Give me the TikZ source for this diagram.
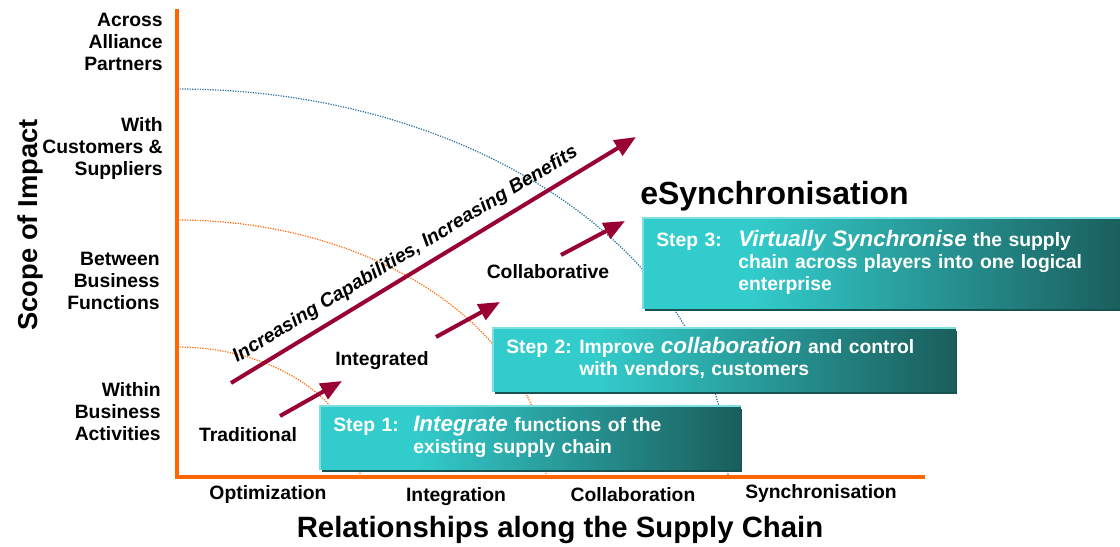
\documentclass[tikz,border=0pt]{standalone}
\usepackage{fontspec}
\setmainfont{Liberation Sans}
\usetikzlibrary{arrows.meta,shadows}

\definecolor{axisorange}{RGB}{255,102,0}
\definecolor{arcblue}{RGB}{30,110,160}
\definecolor{arrowred}{RGB}{153,0,51}
\definecolor{steplight}{RGB}{51,204,204}
\definecolor{stepdark}{RGB}{26,94,92}
\definecolor{steprim}{RGB}{125,224,224}
\definecolor{stepshadow}{RGB}{22,82,82}
\pgfdeclarehorizontalshading{stepshade}{100bp}{color(0bp)=(steplight); color(36bp)=(steplight); color(75bp)=(stepdark); color(100bp)=(stepdark)}

\newcommand{\lbl}{\bfseries\fontsize{14.5}{16.5}\selectfont}
\newcommand{\stepem}[1]{{\itshape\fontsize{16.8}{16.5}\selectfont #1}}

\begin{document}
\begin{tikzpicture}[x=0.75pt, y=-0.75pt,
  axislabel/.style={font=\lbl, align=right, anchor=east, inner sep=0pt},
  stagelabel/.style={font=\lbl, inner sep=0pt},
  stepbox/.style={anchor=north west, shading=stepshade, font=\lbl, text=white,
    align=left, inner xsep=9.75pt, inner ysep=0pt,
    drop shadow={fill=stepshadow, opacity=1, shadow xshift=1.5pt, shadow yshift=-2.25pt}},
  dotarc/.style={densely dotted, line width=0.9pt},
  growth/.style={arrowred, line width=3pt, -{Triangle[length=16pt, width=13pt]}}]
  \useasboundingbox (0,0) rectangle (1120,546);

  % Define the points
  \coordinate (O) at (177,477);
  \coordinate (ytop) at (177,9);
  \coordinate (xend) at (925,477);
  \coordinate (a1) at (177,347);
  \coordinate (a2) at (177,220);
  \coordinate (a3) at (177,89);

  % Dotted arcs
  \draw[dotarc, axisorange] (a1) arc[start angle=-90, end angle=0, x radius=183, y radius=130];
  \draw[dotarc, axisorange] (a2) arc[start angle=-90, end angle=0, x radius=369, y radius=257];
  \draw[dotarc, arcblue] (a3) arc[start angle=-90, end angle=0, x radius=551, y radius=388];

  % Axes
  \draw[axisorange, line width=3pt] (ytop) -- (O) -- (xend);

  % Axis labels
  \node[axislabel] (across) at (163,42) {Across\\Alliance\\Partners};
  \node[axislabel] (with) at (163,148) {With\\Customers \&\\Suppliers};
  \node[axislabel] (between) at (160,281) {Between\\Business\\Functions};
  \node[axislabel] (within) at (161,412) {Within\\Business\\Activities};
  \node[font=\bfseries\fontsize{20.5}{24}\selectfont, rotate=90] (scope) at (30,225) {Scope of Impact};

  \node[stagelabel, anchor=base] (optim) at (268,499) {Optimization};
  \node[stagelabel, anchor=base] (integ) at (456,501) {Integration};
  \node[stagelabel, anchor=base] (collab) at (633,501) {Collaboration};
  \node[stagelabel, anchor=base] (sync) at (821,498) {Synchronisation};
  \node[font=\bfseries\fontsize{22}{26}\selectfont] (relation) at (560,530) {Relationships along the Supply Chain};

  % Growth arrows
  \coordinate (capstart) at (231,383);
  \coordinate (capend) at (636,137);
  \draw[growth] (capstart) -- node[sloped, above, pos=0.455, font=\lbl\itshape, text=black, inner sep=6pt] (benefits) {Increasing Capabilities, Increasing Benefits} (capend);

  \coordinate (t1) at (280,416);
  \coordinate (t2) at (342,381);
  \coordinate (i1) at (436,337);
  \coordinate (i2) at (500,302);
  \coordinate (c1) at (561,255);
  \coordinate (c2) at (625,221);
  \draw[growth] (t1) -- (t2);
  \draw[growth] (i1) -- (i2);
  \draw[growth] (c1) -- (c2);

  \node[stagelabel] (trad) at (248,435) {Traditional};
  \node[stagelabel] (integrated) at (382,361) {Integrated};
  \node[stagelabel] (collaborative) at (548,272) {Collaborative};

  \node[font=\bfseries\fontsize{24}{28}\selectfont, anchor=base west, inner sep=0pt] (esync) at (640,204) {eSynchronisation};

  % Step boxes
  \node[stepbox, minimum width=360pt, text width=340.5pt, minimum height=67.5pt] (step3) at (643,218)
    {\begin{tabular}{@{}p{61.5pt}@{}l@{}}Step 3: & \stepem{Virtually Synchronise} the supply\\ & chain across players into one logical\\ & enterprise\end{tabular}};
  \draw[steprim, line width=1.5pt] (step3.south west) -- (step3.north west) -- (step3.north east);

  \node[stepbox, minimum width=346.5pt, text width=327pt, minimum height=47.25pt] (step2) at (493,328)
    {\begin{tabular}{@{}p{54.75pt}@{}l@{}}Step 2: & Improve \stepem{collaboration} and control\\ & with vendors, customers\end{tabular}};
  \draw[steprim, line width=1.5pt] (step2.south west) -- (step2.north west) -- (step2.north east);

  \node[stepbox, minimum width=315pt, text width=295.5pt, minimum height=47.25pt] (step1) at (320,406)
    {\begin{tabular}{@{}p{60pt}@{}l@{}}Step 1: & \stepem{Integrate} functions of the\\ & existing supply chain\end{tabular}};
  \draw[steprim, line width=1.5pt] (step1.south west) -- (step1.north west) -- (step1.north east);
\end{tikzpicture}
\end{document}
